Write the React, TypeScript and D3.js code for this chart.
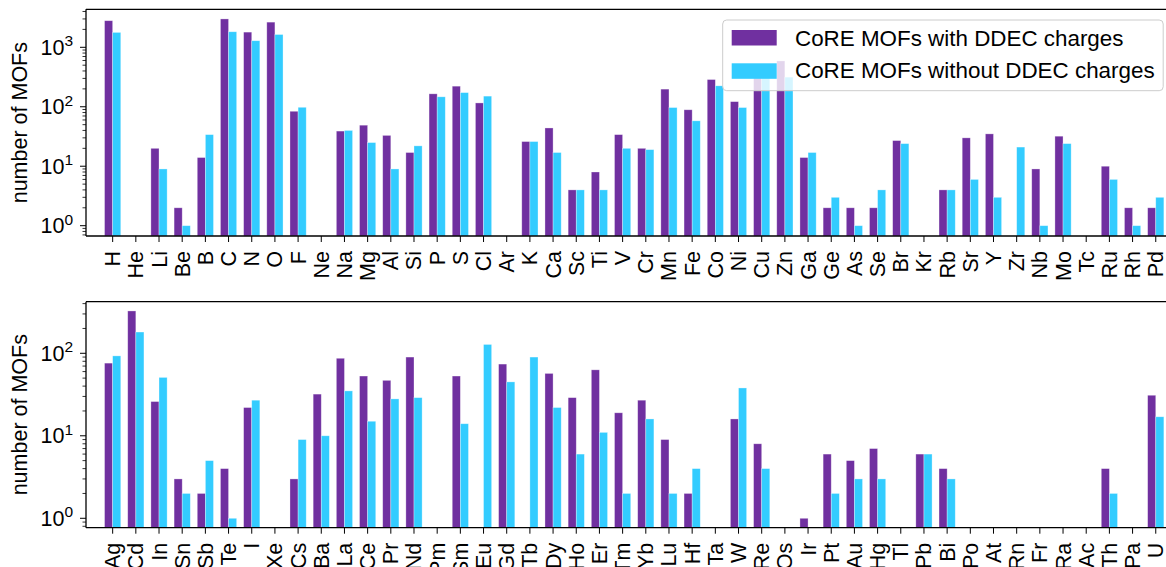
import React from 'react';
import * as d3 from 'd3';

const topElements = ['H', 'He', 'Li', 'Be', 'B', 'C', 'N', 'O', 'F', 'Ne', 'Na', 'Mg', 'Al', 'Si', 'P', 'S', 'Cl', 'Ar', 'K', 'Ca', 'Sc', 'Ti', 'V', 'Cr', 'Mn', 'Fe', 'Co', 'Ni', 'Cu', 'Zn', 'Ga', 'Ge', 'As', 'Se', 'Br', 'Kr', 'Rb', 'Sr', 'Y', 'Zr', 'Nb', 'Mo', 'Tc', 'Ru', 'Rh', 'Pd'];
const topWithDDEC = [2800, 0, 20, 2, 14, 3000, 1800, 2650, 84, 0, 39, 49, 33, 17, 165, 222, 116, 0, 26, 44, 4, 8, 34, 20, 198, 89, 287, 122, 450, 590, 14, 2, 2, 2, 27, 0, 4, 30, 35, 0, 9, 32, 0, 10, 2, 2];
const topWithoutDDEC = [1780, 0, 9, 1, 34, 1825, 1290, 1640, 98, 0, 40, 25, 9, 22, 147, 173, 151, 0, 26, 17, 4, 4, 20, 19, 97, 58, 225, 97, 330, 315, 17, 3, 1, 4, 24, 0, 4, 6, 3, 21, 1, 24, 0, 6, 1, 3];

const bottomElements = ['Ag', 'Cd', 'In', 'Sn', 'Sb', 'Te', 'I', 'Xe', 'Cs', 'Ba', 'La', 'Ce', 'Pr', 'Nd', 'Pm', 'Sm', 'Eu', 'Gd', 'Tb', 'Dy', 'Ho', 'Er', 'Tm', 'Yb', 'Lu', 'Hf', 'Ta', 'W', 'Re', 'Os', 'Ir', 'Pt', 'Au', 'Hg', 'Tl', 'Pb', 'Bi', 'Po', 'At', 'Rn', 'Fr', 'Ra', 'Ac', 'Th', 'Pa', 'U'];
const bottomWithDDEC = [76, 326, 26, 3, 2, 4, 22, 0, 3, 32, 87, 53, 47, 90, 0, 53, 0, 74, 0, 57, 29, 63, 19, 27, 9, 2, 0, 16, 8, 0, 1, 6, 5, 7, 0, 6, 4, 0, 0, 0, 0, 0, 0, 4, 0, 31];
const bottomWithoutDDEC = [93, 181, 51, 2, 5, 1, 27, 0, 9, 10, 35, 15, 28, 29, 0, 14, 128, 45, 90, 22, 6, 11, 2, 16, 2, 4, 0, 38, 4, 0, 0, 2, 3, 3, 0, 6, 3, 0, 0, 0, 0, 0, 0, 2, 0, 17];

const seriesNames = ['CoRE MOFs with DDEC charges', 'CoRE MOFs without DDEC charges'];
const colors = ['#7030a0', '#33ccff'];

const font = '"Liberation Sans", Arial, Helvetica, sans-serif';
const fs = 21.5;
const barW = 0.35;

type PanelProps = {
  cats: string[];
  a: number[];
  b: number[];
  top: number;
  bottom: number;
  yDomain: [number, number];
  legend?: boolean;
};

const Panel = ({ cats, a, b, top, bottom, yDomain, legend }: PanelProps) => {
  const left = 86;
  const x = d3.scaleLinear().domain([-1.15, cats.length - 1 + 1.15]).range([left, left + (cats.length + 1.3) * 23.18]);
  const y = d3.scaleLog().domain(yDomain).range([bottom, top]);

  const major = [1, 10, 100, 1000].filter(v => v >= yDomain[0] && v <= yDomain[1]);
  const minor: number[] = [];
  [0.1, 1, 10, 100, 1000].forEach(d => {
    for (let k = 2; k <= 9; k++) {
      const v = k * d;
      if (v >= yDomain[0] && v <= yDomain[1]) minor.push(v);
    }
  });

  const bar = (v: number, i: number, s: number) => {
    if (!v) return null;
    const x0 = s === 0 ? x(i - barW) : x(i);
    return (
      <rect key={s + '-' + i} x={x0} y={y(v)} width={x(barW) - x(0)} height={bottom - y(v)}
        fill={colors[s]} stroke="#fff" strokeOpacity={0.45} strokeWidth={0.7} />
    );
  };

  return (
    <g fontFamily={font}>
      {a.map((v, i) => bar(v, i, 0))}
      {b.map((v, i) => bar(v, i, 1))}

      <line x1={left} x2={1166} y1={top} y2={top} stroke="#000" strokeWidth={1.3} />
      <line x1={left} x2={1166} y1={bottom} y2={bottom} stroke="#000" strokeWidth={1.3} />
      <line x1={left} x2={left} y1={top} y2={bottom} stroke="#000" strokeWidth={1.3} />

      {minor.map(v => (
        <line key={'m' + v} x1={left - 3.5} x2={left} y1={y(v)} y2={y(v)} stroke="#000" strokeWidth={0.8} />
      ))}
      {major.map(v => {
        const e = Math.round(Math.log10(v));
        return (
          <g key={'M' + v}>
            <line x1={left - 6} x2={left} y1={y(v)} y2={y(v)} stroke="#000" strokeWidth={1} />
            <text x={73} y={y(v) + 7.5} textAnchor="end" fontSize={fs}>
              10<tspan fontSize={15.5} dy={-8.5}>{e}</tspan>
            </text>
          </g>
        );
      })}

      {cats.map((c, i) => (
        <g key={c}>
          <line x1={x(i)} x2={x(i)} y1={bottom} y2={bottom + 6} stroke="#000" strokeWidth={1} />
          <text transform={`translate(${x(i) + 7.5},${bottom + 15}) rotate(-90)`} textAnchor="end" fontSize={fs}>{c}</text>
        </g>
      ))}

      <text transform={`translate(27,${(top + bottom) / 2}) rotate(-90)`} textAnchor="middle" fontSize={fs}>number of MOFs</text>

      {legend && (
        <g>
          <rect x={722.7} y={20} width={440.5} height={70.7} rx={4} fill="#fff" fillOpacity={0.8} stroke="#cccccc" strokeWidth={1} />
          {seriesNames.map((n, i) => (
            <g key={n}>
              <rect x={731.7} y={30 + i * 33.3} width={45} height={15.5} fill={colors[i]} />
              <text x={795} y={45.5 + i * 32.5} fontSize={22.4}>{n}</text>
            </g>
          ))}
        </g>
      )}
    </g>
  );
};

const App = () => {
  return (
    <svg width={1166} height={567} style={{ position: 'absolute', left: 0, top: 0, background: '#fff' }}>
      <rect width={1166} height={567} fill="#fff" />
      <Panel cats={topElements} a={topWithDDEC} b={topWithoutDDEC} top={9.3} bottom={236} yDomain={[0.671, 4355]} legend />
      <Panel cats={bottomElements} a={bottomWithDDEC} b={bottomWithoutDDEC} top={301.7} bottom={527.7} yDomain={[0.769, 422]} />
    </svg>
  );
};

export default App;
